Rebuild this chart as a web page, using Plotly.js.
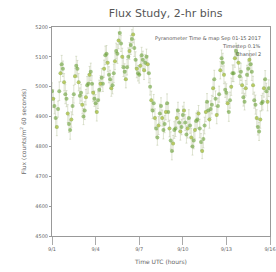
<!DOCTYPE html>
<html>
<head>
<meta charset="utf-8">
<script src="https://cdn.plot.ly/plotly-3.0.1.min.js"></script>
<style>html,body{margin:0;padding:0;background:#fff;}#chart{width:276px;height:272px;}</style>
</head>
<body>
<div id="chart"></div>
<script>
// Data: 2-hr bins starting 2017-09-01 00:00 UTC
const startTime = "2017-09-01T00:00:00Z";
const binHours = 2;
const flux = [
  4985,4960,4935,4895,4865,4925,
  4985,5045,5075,5060,5015,4975,
  4960,4910,4875,4855,4890,4935,
  4975,5035,5070,5060,5015,4970,
  4980,4940,4900,4920,4965,5005,
  5010,5040,5050,5010,4980,4960,
  4945,4915,4955,4990,5010,5030,
  5010,5060,5105,5110,5080,5040,
  5025,4995,5005,5045,5085,5120,
  5110,5155,5180,5145,5100,5065,
  5050,5025,5065,5100,5120,5140,
  5160,5175,5130,5090,5060,5045,
  5040,5070,5105,5090,5055,5080,
  5100,5075,5045,5000,4955,4920,
  4945,4895,4860,4830,4870,4910,
  4935,4895,4855,4875,4915,4945,
  4915,4860,4820,4785,4810,4855,
  4860,4895,4920,4880,4850,4865,
  4905,4920,4880,4840,4860,4895,
  4870,4830,4800,4820,4855,4885,
  4890,4910,4860,4815,4785,4825,
  4870,4915,4950,4920,4890,4925,
  4940,4995,5025,4960,4905,4935,
  4975,5055,5095,5080,5040,4990,
  4980,4945,4915,4955,5000,5045,
  5045,5095,5120,5110,5080,5035,
  5050,5005,4965,4950,4995,5040,
  5060,5090,5075,5050,5005,4955,
  4940,4895,4865,4850,4890,4945,
  4950,4995,5025,4985,4950,4995
];
const fluxErr = [
  28,30,26,32,29,27, 31,28,30,26,29,32, 27,30,28,31,26,29, 30,27,32,28,29,26,
  28,31,27,30,26,29, 32,28,29,27,30,26, 29,30,28,32,27,31, 26,29,31,28,30,27,
  30,27,29,31,28,26, 32,28,30,27,29,31, 27,29,26,30,28,32, 31,28,29,27,30,26,
  28,30,27,29,31,28, 26,29,32,28,30,27, 29,31,28,26,30,32, 28,27,30,29,26,31,
  32,28,29,30,27,28, 27,30,28,31,29,26, 30,28,27,29,32,28, 26,31,29,28,30,27,
  29,27,31,28,26,30, 28,32,27,30,29,28, 31,28,30,26,29,27, 27,29,28,32,30,26,
  30,28,31,27,29,28, 28,30,26,29,31,27, 29,27,30,28,26,32, 26,31,28,29,30,27,
  32,28,27,30,29,26, 28,30,29,27,31,28
];
const xTickVals = ["2017-09-01","2017-09-04","2017-09-07","2017-09-10","2017-09-13","2017-09-16"];
const xTickText = ["9/1","9/4","9/7","9/10","9/13","9/16"];
const yTickVals = [4500,4600,4700,4800,4900,5000,5100,5200];
const annotLines = ["Pyranometer Time &amp; map Sep 01-15 2017","Timestep 0.1%","Channel 2"];

const t0 = new Date(startTime).getTime();
const times = flux.map((_, i) => new Date(t0 + i * binHours * 3600e3).toISOString().slice(0,19).replace("T"," "));

const trace = {
  x: times, y: flux, type: "scatter", mode: "markers",
  marker: {size: 4, color: "rgba(105,160,55,0.6)", line: {width: 0}},
  error_y: {type: "data", array: fluxErr, visible: true, color: "rgba(170,185,140,0.55)", thickness: 0.7, width: 1}
};
const trace2 = {
  x: times.filter((_, i) => i % 3 === 1), y: flux.filter((_, i) => i % 3 === 1),
  type: "scatter", mode: "markers",
  marker: {size: 3, color: "rgba(205,205,80,0.6)", line: {width: 0}}, hoverinfo: "skip"
};

const gray = "#666";
const layout = {
  width: 276, height: 272,
  margin: {l: 52, r: 6, t: 27, b: 36},
  paper_bgcolor: "#fff", plot_bgcolor: "#fff",
  showlegend: false,
  title: {text: "Flux Study, 2-hr bins", x: 0.6, xanchor: "center", y: 0.965, font: {family: "DejaVu Sans", size: 11, color: "#555"}},
  xaxis: {
    type: "date", range: ["2017-09-01", "2017-09-16"],
    tickvals: xTickVals, ticktext: xTickText,
    showgrid: false, zeroline: false, showline: true, mirror: true, linecolor: "#999", linewidth: 1,
    ticks: "outside", ticklen: 8, tickcolor: "#aaa",
    tickfont: {family: "DejaVu Sans", size: 5, color: gray},
    title: {text: "Time UTC (hours)", font: {family: "DejaVu Sans", size: 6, color: gray}, standoff: 8}
  },
  yaxis: {
    range: [4500, 5200], tickvals: yTickVals,
    showgrid: false, zeroline: false, showline: true, mirror: true, linecolor: "#999", linewidth: 1,
    ticks: "outside", ticklen: 2, tickcolor: "#999",
    tickfont: {family: "DejaVu Sans", size: 5, color: gray},
    title: {text: "Flux (counts/m<sup>2</sup> 60 seconds)", font: {family: "DejaVu Sans", size: 6, color: gray}, standoff: 8}
  },
  annotations: annotLines.map((txt, i) => ({
    text: txt, xref: "paper", yref: "paper", x: 0.97, y: 0.97 - i * 0.038,
    xanchor: "right", yanchor: "top", showarrow: false,
    font: {family: "DejaVu Sans", size: 5, color: "#555"}
  }))
};
Plotly.newPlot("chart", [trace, trace2], layout, {displayModeBar: false, staticPlot: true});
</script>
</body>
</html>
